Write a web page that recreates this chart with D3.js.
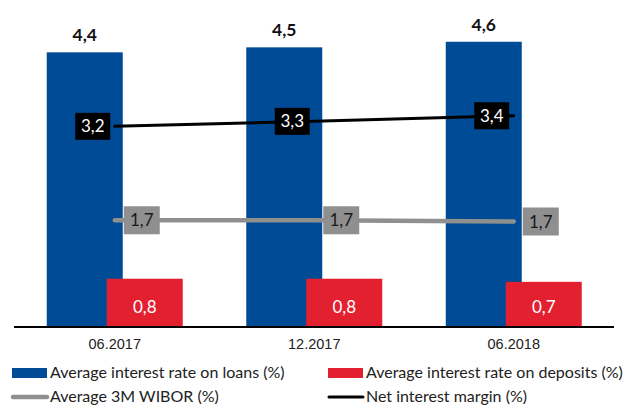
<!DOCTYPE html>
<html>
<head>
<meta charset="utf-8">
<script src="https://cdn.jsdelivr.net/npm/d3@7"></script>
<style>
  html, body { margin: 0; padding: 0; background: #fff; }
  svg { display: block; font-family: Lato, "Noto Sans", sans-serif; }
</style>
</head>
<body>
<svg id="chart" width="629" height="406"></svg>
<script>
const categories = ["06.2017", "12.2017", "06.2018"];
const loans = [4.40, 4.48, 4.57];
const deposits = [0.76, 0.76, 0.71];
const wibor = [1.70, 1.70, 1.68];
const margin = [3.21, 3.29, 3.38];
const legendLabels = [
  "Average interest rate on loans (%)",
  "Average interest rate on deposits (%)",
  "Average 3M WIBOR (%)",
  "Net interest margin (%)"
];

const colors = { loans: "#004B96", deposits: "#E3202F", wibor: "#8F8F8F", margin: "#000000" };
const fmt = v => d3.format(".1f")(v).replace(".", ",");

const svg = d3.select("#chart");
const x = d3.scaleBand().domain(categories).range([15, 613.5]).padding(0);
const y = d3.scaleLinear().domain([0, 5]).range([326, 15]);
const cx = c => x(c) + x.bandwidth() / 2;
const barW = 76, off = 30;

// blue bars
svg.append("g").selectAll("rect").data(loans).join("rect")
  .attr("x", (d, i) => cx(categories[i]) - off - barW / 2)
  .attr("y", d => y(d))
  .attr("width", barW)
  .attr("height", d => y(0) - y(d))
  .attr("fill", colors.loans);

// red bars
svg.append("g").selectAll("rect").data(deposits).join("rect")
  .attr("x", (d, i) => cx(categories[i]) + off - barW / 2)
  .attr("y", d => y(d))
  .attr("width", barW)
  .attr("height", d => y(0) - y(d))
  .attr("fill", colors.deposits);

// axis
const axis = svg.append("g").attr("transform", "translate(0,327)")
  .call(d3.axisBottom(x).tickSize(0).tickPadding(12));
axis.select(".domain").attr("stroke", "#000").attr("stroke-width", 2).attr("d", "M14,0H614");
axis.selectAll("text").attr("font-size", 14.5).attr("fill", "#222").attr("font-family", "inherit");

// loan labels
svg.append("g").selectAll("text").data(loans).join("text")
  .attr("x", (d, i) => cx(categories[i]) - off)
  .attr("y", d => y(d) - 11)
  .attr("text-anchor", "middle")
  .attr("font-size", 17.5).attr("font-weight", "bold").attr("fill", "#111")
  .text(fmt);

// deposit labels
svg.append("g").selectAll("text").data(deposits).join("text")
  .attr("x", (d, i) => cx(categories[i]) + off)
  .attr("y", y(0) - 13)
  .attr("text-anchor", "middle")
  .attr("font-size", 17).attr("fill", "#fff")
  .text(fmt);

// lines
const line = (arr) => d3.line().x((d, i) => cx(categories[i])).y(d => y(d))(arr);
svg.append("path").attr("d", line(wibor)).attr("fill", "none")
  .attr("stroke", colors.wibor).attr("stroke-width", 4.5).attr("stroke-linecap", "round");
svg.append("path").attr("d", line(margin)).attr("fill", "none")
  .attr("stroke", colors.margin).attr("stroke-width", 3).attr("stroke-linecap", "round");

// wibor labels
const wl = svg.append("g").selectAll("g").data(wibor).join("g")
  .attr("transform", (d, i) => `translate(${cx(categories[i]) + 27},${y(d)})`);
wl.append("rect").attr("x", -18).attr("y", -14).attr("width", 36).attr("height", 28).attr("fill", colors.wibor);
wl.append("text").attr("text-anchor", "middle").attr("dy", "0.36em")
  .attr("font-size", 17).attr("fill", "#1a1a1a").text(fmt);

// margin labels
const ml = svg.append("g").selectAll("g").data(margin).join("g")
  .attr("transform", (d, i) => `translate(${cx(categories[i]) - 22},${y(d)})`);
ml.append("rect").attr("x", -17.5).attr("y", -13.5).attr("width", 35).attr("height", 27).attr("fill", colors.margin);
ml.append("text").attr("text-anchor", "middle").attr("dy", "0.36em")
  .attr("font-size", 17).attr("fill", "#fff").text(fmt);

// legend
const legendItems = [
  { label: legendLabels[0], color: colors.loans, type: "rect", lx: 12, ly: 373 },
  { label: legendLabels[1], color: colors.deposits, type: "rect", lx: 328, ly: 373 },
  { label: legendLabels[2], color: colors.wibor, type: "line", lx: 12, ly: 397 },
  { label: legendLabels[3], color: colors.margin, type: "line", lx: 328, ly: 397 }
];
const lg = svg.append("g").selectAll("g").data(legendItems).join("g")
  .attr("transform", d => `translate(${d.lx},${d.ly})`);
lg.filter(d => d.type === "rect").append("rect")
  .attr("x", 0).attr("y", -5).attr("width", 35).attr("height", 10).attr("fill", d => d.color);
lg.filter(d => d.type === "line").append("line")
  .attr("x1", 1).attr("x2", 35).attr("y1", 0).attr("y2", 0)
  .attr("stroke", d => d.color).attr("stroke-width", d => d.color === colors.wibor ? 4.5 : 3)
  .attr("stroke-linecap", "round");
lg.append("text").attr("x", 38).attr("dy", "0.33em")
  .attr("font-size", 16).attr("fill", "#222").text(d => d.label);
</script>
</body>
</html>
